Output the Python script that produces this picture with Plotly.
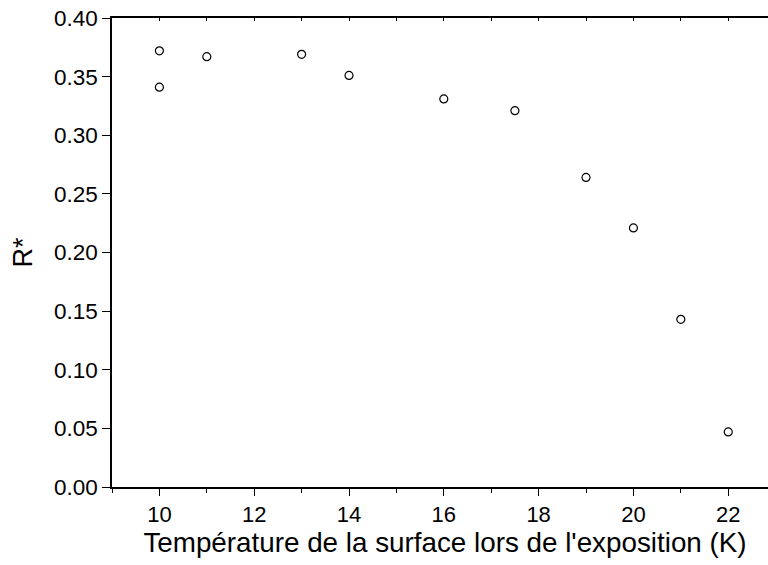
import plotly.graph_objects as go

temperature = [10, 10, 11, 13, 14, 16, 17.5, 19, 20, 21, 22]
r_star = [0.372, 0.341, 0.367, 0.369, 0.351, 0.331, 0.321, 0.264, 0.221, 0.143, 0.047]

x_title = "Température de la surface lors de l'exposition (K)"
y_title = "R*"

font = "Liberation Sans, Arial, sans-serif"

fig = go.Figure()
fig.add_trace(go.Scatter(
    x=temperature, y=r_star, mode="markers",
    marker=dict(symbol="circle-open", size=8, color="black", line=dict(width=1.2)),
    showlegend=False,
))
# invisible trace on top axis for mirrored inward ticks
fig.add_trace(go.Scatter(x=[temperature[0]], y=[r_star[0]], xaxis="x2", mode="markers",
                         marker=dict(opacity=0), showlegend=False, hoverinfo="skip"))

fig.update_layout(
    width=778, height=565,
    margin=dict(l=112, r=0, t=18, b=78, autoexpand=False),
    paper_bgcolor="white", plot_bgcolor="white",
    font=dict(family=font, color="black", size=22),
    xaxis=dict(
        range=[9, 23.05], tickmode="array", tickvals=[10, 12, 14, 16, 18, 20, 22],
        showline=True, linecolor="black", linewidth=1.5,
        ticks="outside", ticklen=7, tickwidth=1.2, tickcolor="black",
        minor=dict(tickmode="array", tickvals=[9, 11, 13, 15, 17, 19, 21, 23], ticks="outside", ticklen=4, tickwidth=1.2, tickcolor="black"),
        showgrid=False, zeroline=False, automargin=False,
        title=dict(text=x_title, font=dict(size=27.8), standoff=6),
        tickfont=dict(size=22),
    ),
    xaxis2=dict(
        overlaying="x", side="top", matches="x", range=[9, 23.05],
        tickmode="array", tickvals=list(range(9, 24)),
        showline=True, linecolor="black", linewidth=1.5,
        ticks="inside", ticklen=3, tickwidth=1, tickcolor="black",
        showticklabels=False, showgrid=False, zeroline=False, automargin=False,
    ),
    yaxis=dict(
        range=[0, 0.40], tickmode="array",
        tickvals=[0, 0.05, 0.1, 0.15, 0.2, 0.25, 0.3, 0.35, 0.4],
        ticktext=["0.00", "0.05", "0.10", "0.15", "0.20", "0.25", "0.30", "0.35", "0.40"],
        showline=True, linecolor="black", linewidth=1.5,
        ticks="outside", ticklen=8, tickwidth=1.2, tickcolor="black",
        showgrid=False, zeroline=False, automargin=False,
        title=dict(text=y_title, font=dict(size=27), standoff=14),
        tickfont=dict(size=22.5),
    ),
)

fig.write_html(
    "out.html",
    config={"displayModeBar": False},
    post_script="document.body.style.margin='0';document.body.style.overflow='hidden';",
)
